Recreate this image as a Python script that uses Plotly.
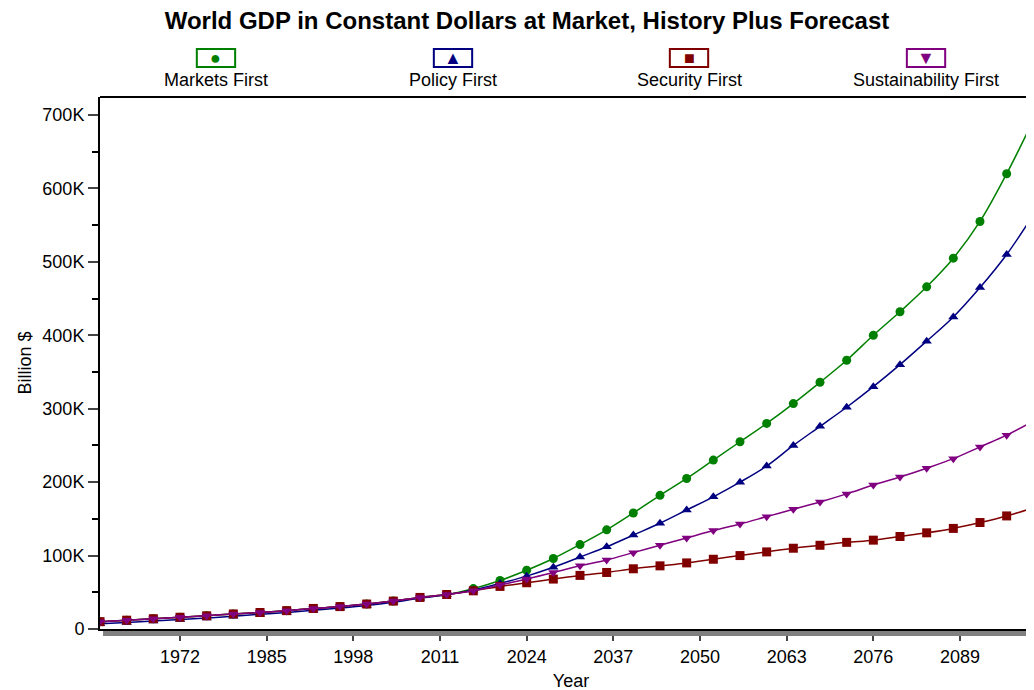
import plotly.graph_objects as go

# Data (billion $)
years = list(range(1960, 2101, 4))
history = [10, 12, 14, 16, 18, 20.5, 22.5, 25, 28, 30.5, 34, 38, 43, 47]
markets = history + [55, 66, 80, 96, 115, 135, 158, 182, 205, 230, 255, 280, 307, 336, 366, 400, 432, 466, 505, 555, 620, 693]
policy = [7, 9, 11, 13, 15, 17.5, 20, 22.5, 25.5, 28.5, 32, 36.5, 42, 46.5,
          53, 62, 72, 84, 98, 112, 128, 144, 162, 180, 200, 222, 250, 276, 302, 330, 360, 392, 425, 465, 510, 564]
security = history + [52, 58, 63, 68, 73, 77, 82, 86, 90, 95, 100, 105, 110, 114, 118, 121, 126, 131, 137, 145, 154, 165]
sustain = history + [52, 60, 68, 77, 86, 94, 104, 114, 124, 134, 143, 153, 163, 173, 184, 196, 207, 219, 232, 248, 264, 283]

series = [
    ("Markets First", markets, "#008000", "circle", "●"),
    ("Policy First", policy, "#000080", "triangle-up", "▲"),
    ("Security First", security, "#800000", "square", "■"),
    ("Sustainability First", sustain, "#800080", "triangle-down", "▼"),
]
legend_x = [215, 450, 684, 919]

# page body adds an 8px offset, so the figure is placed 8px up/left
OFF = 8
L, T, B = 100 - OFF, 97 - OFF, 690 - (629 - OFF)
PW, PH = 934, 690 - T - B


def px_(pix):  # window column -> paper x
    return (pix - 100) / PW


def py(pix):  # window row -> paper y
    return (629 - pix) / PH


fig = go.Figure()
for name, vals, color, sym, _ in series:
    fig.add_trace(go.Scatter(
        x=years, y=[v * 1000 for v in vals], name=name, mode="lines+markers",
        line=dict(color=color, width=1.5, shape="spline"),
        marker=dict(symbol=sym, color=color, size=9),
    ))

# custom legend: box with symbol above label
for (name, vals, color, sym, glyph), px in zip(series, legend_x):
    fx = px_(px)
    fig.add_shape(type="rect", xref="paper", yref="paper",
                  x0=fx - 19 / PW, x1=fx + 19 / PW, y0=py(67), y1=py(49),
                  line=dict(color=color, width=2), fillcolor="white")
    fig.add_annotation(x=fx, y=py(58), xref="paper", yref="paper", xanchor="center", yanchor="middle",
                       text=glyph, showarrow=False, font=dict(color=color, size=18))
    fig.add_annotation(x=fx, y=py(80), xref="paper", yref="paper", xanchor="center", yanchor="middle",
                       text=name, showarrow=False, font=dict(color="black", size=18))

# axis shadow
fig.add_shape(type="rect", xref="paper", yref="paper", x0=3 / PW, x1=1, y0=-7 / PH, y1=-2 / PH,
              line=dict(width=0), fillcolor="#808080")
# top border line
fig.add_shape(type="line", xref="paper", yref="paper", x0=0, x1=1, y0=1, y1=1,
              line=dict(color="black", width=2))

fig.update_layout(
    width=1034, height=690,
    margin=dict(l=L, r=0, t=T, b=B, autoexpand=False),
    plot_bgcolor="white", paper_bgcolor="white",
    showlegend=False,
    font=dict(family="Arial, Liberation Sans", color="black", size=18),
    title=dict(text="<b>World GDP in Constant Dollars at Market, History Plus Forecast</b>",
               x=(527 - OFF) / 1034, xanchor="center", y=1 - (21 - OFF) / 690, yanchor="middle",
               font=dict(size=24)),
    xaxis=dict(range=[1960, 2101.3], tickvals=list(range(1972, 2100, 13)), ticks="outside",
               ticklen=10, tickwidth=2, showline=True, linecolor="black", linewidth=2,
               showgrid=False, zeroline=False, automargin=False,
               title=dict(text="Year", standoff=9, font=dict(size=18))),
    yaxis=dict(range=[0, 700000 * 1.035], tickvals=list(range(0, 700001, 100000)),
               ticktext=["0"] + [f"{i}00K" for i in range(1, 8)],
               ticks="outside", ticklen=10, tickwidth=2, showline=True, linecolor="black",
               linewidth=2, showgrid=False, zeroline=False, automargin=False,
               minor=dict(tickvals=list(range(50000, 700001, 100000)), ticks="outside", ticklen=6,
                          tickwidth=1.5, tickcolor="black"),
               title=dict(text="Billion $", standoff=6, font=dict(size=18))),
)

fig.write_html("out.html")
